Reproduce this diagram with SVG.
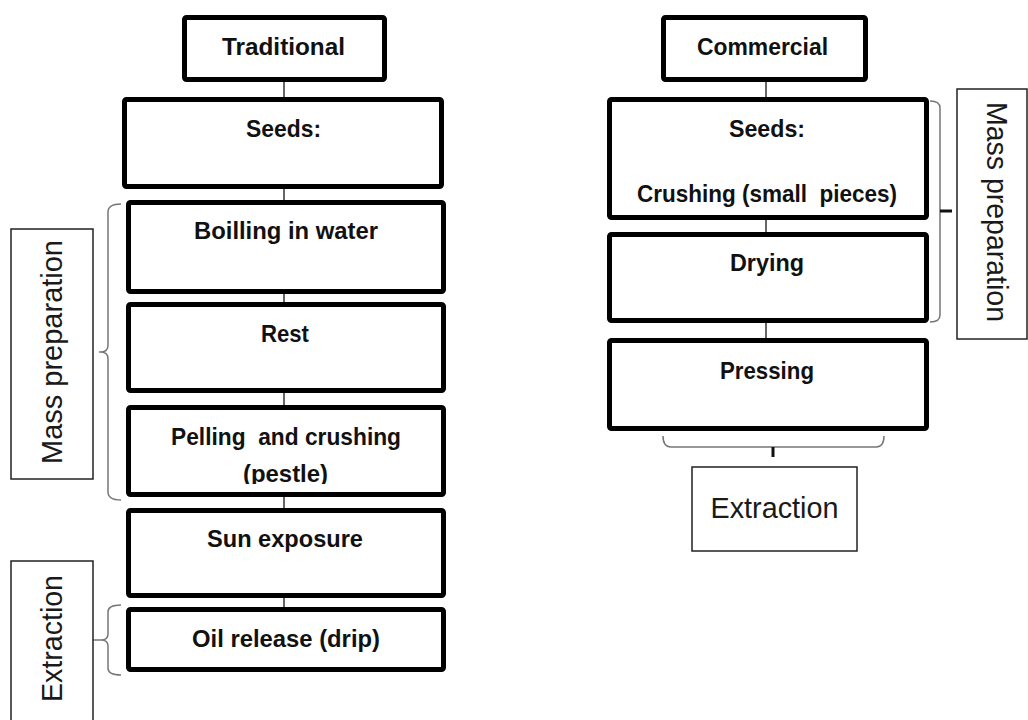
<svg xmlns="http://www.w3.org/2000/svg" width="1028" height="720" viewBox="0 0 1028 720">
<style>
.step{fill:#fff;stroke:#000;stroke-width:5}
.lbl{fill:#fff;stroke:#222;stroke-width:1.5}
.conn{stroke:#333;stroke-width:1.5;fill:none}
.brace{stroke:#777;stroke-width:1.5;fill:none}
.tick{stroke:#111;stroke-width:3;fill:none}
.b{font-family:"Liberation Sans",Arial,sans-serif;font-weight:bold;font-size:24px;fill:#111;text-anchor:middle}
.r{font-family:"Liberation Sans",Arial,sans-serif;font-size:29px;fill:#1a1a1a;text-anchor:middle}
</style>
<defs>
<clipPath id="clipPestle"><rect x="130" y="450" width="310" height="34"/></clipPath>
</defs>
<rect width="1028" height="720" fill="#fff"/>
<g id="connectors">
<line class="conn" x1="284" y1="82" x2="284" y2="97"/>
<line class="conn" x1="284" y1="189" x2="284" y2="200"/>
<line class="conn" x1="284" y1="294" x2="284" y2="302"/>
<line class="conn" x1="284" y1="393" x2="284" y2="405"/>
<line class="conn" x1="284" y1="497" x2="284" y2="508"/>
<line class="conn" x1="284" y1="598" x2="284" y2="607"/>
<line class="conn" x1="766" y1="82" x2="766" y2="97"/>
<line class="conn" x1="766" y1="220" x2="766" y2="232"/>
<line class="conn" x1="766" y1="323" x2="766" y2="338"/>
</g>
<g id="brace-left-mass">
<path class="brace" d="M121,204 Q108,204 108,212 V345 Q108,352 101,352 Q108,352 108,359 V492 Q108,500 121,500"/>
<line class="brace" x1="99" y1="352" x2="101" y2="352"/>
</g>
<g id="brace-left-extraction">
<path class="brace" d="M121,605 Q108,605 108,612 V634 Q108,640 101,640 Q108,640 108,646 V668 Q108,675 121,675"/>
<line class="brace" x1="93" y1="640" x2="101" y2="640"/>
</g>
<g id="brace-right-mass">
<path class="brace" d="M930,101 Q940,101 940,108 V315 Q940,322 930,322"/>
<line class="tick" x1="940" y1="211" x2="952" y2="211"/>
</g>
<g id="brace-right-extraction">
<path class="brace" d="M663,436 Q663,447 671,447 H876 Q884,447 884,436"/>
<line class="tick" x1="773" y1="447" x2="773" y2="457"/>
</g>
<g id="traditional">
<rect class="step" x="184.5" y="17.5" width="200" height="62" rx="2"/>
<text class="b" x="283.5" y="55" textLength="123" lengthAdjust="spacingAndGlyphs">Traditional</text>
</g>
<g id="seeds-left">
<rect class="step" x="124.5" y="99.5" width="317" height="87" rx="2"/>
<text class="b" x="283.5" y="137" textLength="75" lengthAdjust="spacingAndGlyphs">Seeds:</text>
</g>
<g id="boiling">
<rect class="step" x="128.5" y="202.5" width="315" height="89" rx="2"/>
<text class="b" x="286" y="239" textLength="184" lengthAdjust="spacingAndGlyphs">Boilling in water</text>
</g>
<g id="rest">
<rect class="step" x="128.5" y="304.5" width="315" height="86" rx="2"/>
<text class="b" x="285" y="342" textLength="48" lengthAdjust="spacingAndGlyphs">Rest</text>
</g>
<g id="pelling">
<rect class="step" x="128.5" y="407.5" width="315" height="87" rx="2"/>
<text class="b" x="286" y="445" textLength="230" lengthAdjust="spacingAndGlyphs" xml:space="preserve">Pelling  and crushing</text>
<text class="b" x="285.5" y="482" textLength="85" lengthAdjust="spacingAndGlyphs" clip-path="url(#clipPestle)">(pestle)</text>
</g>
<g id="sun">
<rect class="step" x="128.5" y="510.5" width="315" height="85" rx="2"/>
<text class="b" x="285" y="547" textLength="156" lengthAdjust="spacingAndGlyphs">Sun exposure</text>
</g>
<g id="oil">
<rect class="step" x="128.5" y="609.5" width="315" height="60" rx="2"/>
<text class="b" x="286" y="647" textLength="188" lengthAdjust="spacingAndGlyphs">Oil release (drip)</text>
</g>
<g id="label-left-mass">
<rect class="lbl" x="11" y="229" width="82" height="250"/>
<text class="r" transform="translate(62,352) rotate(-90)" x="0" y="0" textLength="224" lengthAdjust="spacingAndGlyphs">Mass preparation</text>
</g>
<g id="label-left-extraction">
<rect class="lbl" x="11" y="561" width="82" height="170"/>
<text class="r" transform="translate(62,638.5) rotate(-90)" x="0" y="0" textLength="127" lengthAdjust="spacingAndGlyphs">Extraction</text>
</g>
<g id="commercial">
<rect class="step" x="663.5" y="17.5" width="202" height="62" rx="2"/>
<text class="b" x="762.5" y="55" textLength="131" lengthAdjust="spacingAndGlyphs">Commercial</text>
</g>
<g id="seeds-right">
<rect class="step" x="609.5" y="99.5" width="317" height="118" rx="2"/>
<text class="b" x="767" y="137" textLength="76" lengthAdjust="spacingAndGlyphs">Seeds:</text>
<text class="b" x="767" y="202" textLength="260" lengthAdjust="spacingAndGlyphs" xml:space="preserve">Crushing (small  pieces)</text>
</g>
<g id="drying">
<rect class="step" x="609.5" y="234.5" width="317" height="86" rx="2"/>
<text class="b" x="767" y="271" textLength="74" lengthAdjust="spacingAndGlyphs">Drying</text>
</g>
<g id="pressing">
<rect class="step" x="609.5" y="340.5" width="317" height="88" rx="2"/>
<text class="b" x="767" y="379" textLength="94" lengthAdjust="spacingAndGlyphs">Pressing</text>
</g>
<g id="label-right-mass">
<rect class="lbl" x="957" y="89" width="70" height="250"/>
<text class="r" transform="translate(987,212) rotate(90)" x="0" y="0" textLength="220" lengthAdjust="spacingAndGlyphs">Mass preparation</text>
</g>
<g id="label-right-extraction">
<rect class="lbl" x="692" y="467" width="165" height="84"/>
<text class="r" x="774.5" y="518" textLength="128" lengthAdjust="spacingAndGlyphs">Extraction</text>
</g>
</svg>
